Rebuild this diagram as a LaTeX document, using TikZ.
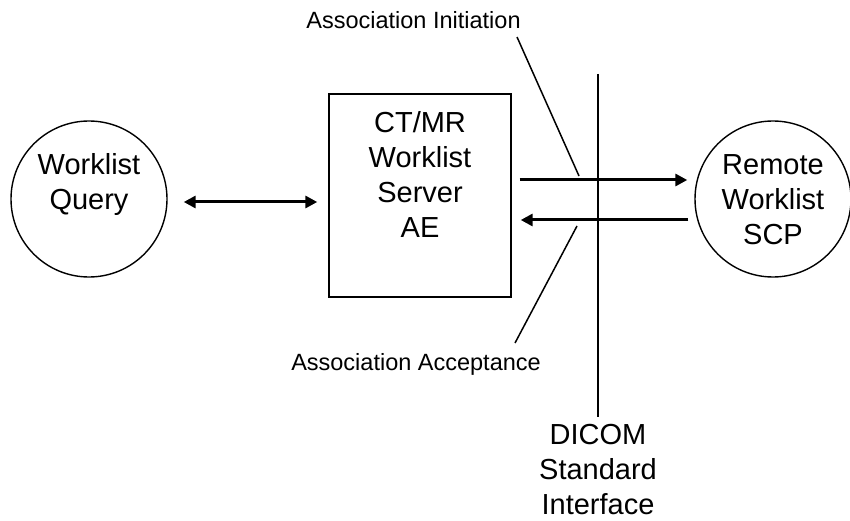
\documentclass[tikz,border=0pt]{standalone}
\usepackage{fontspec}
\setmainfont{Liberation Sans}
\usetikzlibrary{arrows.meta,calc}
\newcommand\mystrut{\rule[-10pt]{0pt}{35pt}}
\newcommand\topstrut{\rule{0pt}{25pt}}
\tikzset{
  outlined/.style={draw=black, line width=1.4pt, inner sep=0pt},
  bigtext/.style={inner sep=0pt, align=center, font=\fontsize{29}{35}\selectfont},
  smalltext/.style={inner sep=0pt, font=\fontsize{23.5}{28}\selectfont},
  flow/.style={line width=3pt, -{Triangle[length=12pt,width=12pt]}},
  dflow/.style={line width=3pt, {Triangle[length=12pt,width=12pt]}-{Triangle[length=12pt,width=12pt]}},
  pointer/.style={line width=1.5pt},
}
\begin{document}
\begin{tikzpicture}[x=1pt,y=-1pt]
\useasboundingbox (0,0) rectangle (850,521);
% shapes
\node[outlined, circle, minimum size=156pt] (wq) at (89,199) {};
\node[outlined, rectangle, minimum width=182pt, minimum height=203pt] (srv) at (420,195.5) {};
\node[outlined, circle, minimum size=156pt] (rs) at (773,199) {};
% texts
\node[bigtext] (wqt) at (89,184.5) {\mystrut Worklist\\\mystrut Query};
\node[bigtext] (srvt) at (420,177.5) {\mystrut CT/MR\\\mystrut Worklist\\\mystrut Server\\\mystrut AE};
\node[bigtext] (rst) at (773,202) {\mystrut Remote\\\mystrut Worklist\\\mystrut SCP};
\node[bigtext, anchor=north] (dicom) at (598,419) {\mystrut DICOM\\\mystrut Standard\\\topstrut Interface};
\node[smalltext, anchor=base] (ini) at (413.5,29) {Association Initiation};
\node[smalltext, anchor=base] (acc) at (416,370) {Association Acceptance};
% DICOM interface line
\coordinate (dtop) at (598,74);
\draw[line width=2pt] (dtop) -- ($(dicom.north)+(0,-2)$);
% arrows
\draw[dflow] ($(wq.east)+(16,3)$) -- ($(srv.west)+(-11,6.5)$);
\draw[flow] ($(srv.east)+(8,-15.5)$) -- ($(rs.west)+(-7,-19)$);
\draw[flow] ($(rs.west)+(-6,21)$) -- ($(srv.east)+(9,24.5)$);
% label pointers
\coordinate (i1) at (517,37);
\coordinate (i2) at (579,176);
\draw[pointer] (i1) -- (i2);
\coordinate (a1) at (577,226);
\coordinate (a2) at (515,343);
\draw[pointer] (a1) -- (a2);
\end{tikzpicture}
\end{document}
